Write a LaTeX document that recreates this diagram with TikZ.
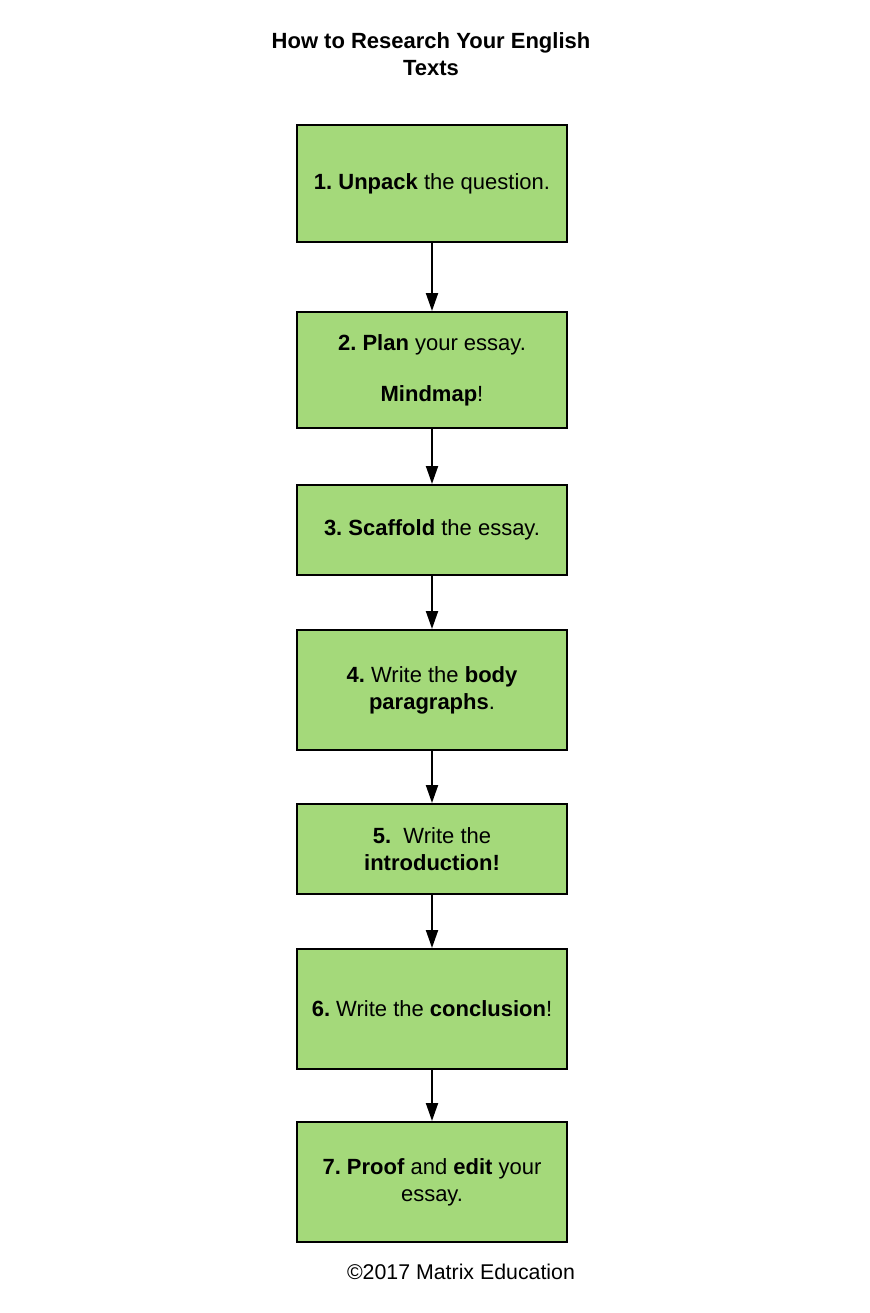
\documentclass[tikz,border=0pt]{standalone}
\usepackage{fontspec}
\setmainfont{Liberation Sans}
\usepackage{tikz}
\usetikzlibrary{arrows.meta}

\definecolor{stepgreen}{RGB}{164,217,122}
\frenchspacing

\begin{document}
\begin{tikzpicture}[x=0.75pt,y=0.75pt,yscale=-1,xscale=1,
  stepbox/.style={draw=black, line width=1.5pt, fill=stepgreen, minimum width=202.5pt, inner sep=0pt, align=center, font=\fontsize{16.5}{20.25}\selectfont},
  flowarrow/.style={draw=black, line width=1.5pt, -{Triangle[length=13.5pt, width=9pt]}},
  plaintext/.style={inner sep=0.75pt, align=center, font=\fontsize{16.5}{20.25}\selectfont}]
\useasboundingbox (0,0) rectangle (870,1313);

% Title Node
\node [plaintext] (title) at (431,54) {\textbf{How to Research Your English}\\\textbf{Texts}};

% Step Nodes
\node [stepbox, minimum height=87.75pt] (unpack) at (432,183.5) {\textbf{1. Unpack} the question.};
\node [stepbox, minimum height=87pt] (plan) at (432,370) {\textbf{2. Plan} your essay.\\[18pt]\textbf{Mindmap}!};
\node [stepbox, minimum height=67.5pt] (scaffold) at (432,530) {\textbf{3. Scaffold} the essay.};
\node [stepbox, minimum height=90pt] (body) at (432,690) {\textbf{4.} Write the \textbf{body}\\\textbf{paragraphs}.};
\node [stepbox, minimum height=67.5pt] (intro) at (432,849) {\textbf{5.}\ \ Write the\\\textbf{introduction!}};
\node [stepbox, minimum height=90pt] (conclusion) at (432,1009) {\textbf{6.} Write the \textbf{conclusion}!};
\node [stepbox, minimum height=90pt] (proof) at (432,1182) {\textbf{7. Proof} and \textbf{edit} your\\essay.};

% Arrows
\draw [flowarrow] (unpack) -- (plan);
\draw [flowarrow] (plan) -- (scaffold);
\draw [flowarrow] (scaffold) -- (body);
\draw [flowarrow] (body) -- (intro);
\draw [flowarrow] (intro) -- (conclusion);
\draw [flowarrow] (conclusion) -- (proof);

% Text Node
\node [plaintext, font=\fontsize{16}{19.5}\selectfont] (copyright) at (461,1272) {\textcopyright2017 Matrix Education};

\end{tikzpicture}
\end{document}
